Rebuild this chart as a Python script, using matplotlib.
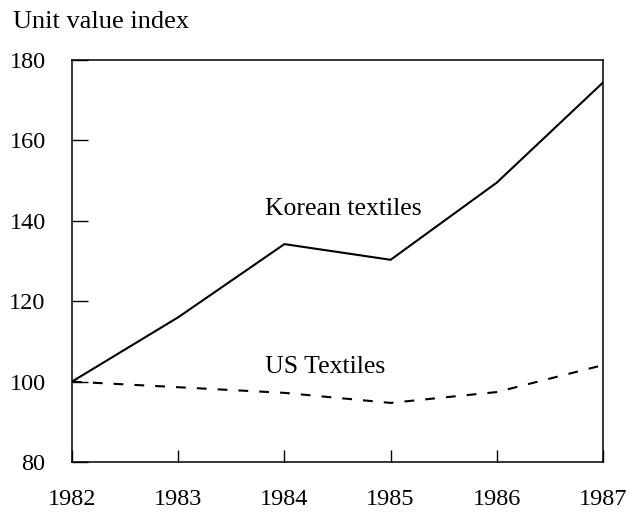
import matplotlib.pyplot as plt

years = [1982, 1983, 1984, 1985, 1986, 1987]
korean = [100, 116, 134.2, 130.3, 149.5, 174.4]
us = [100, 98.6, 97.2, 94.7, 97.4, 104.1]

plt.rcParams['font.family'] = ['Liberation Serif', 'DejaVu Serif']

fig = plt.figure(figsize=(6.33, 5.13), dpi=100)
ax = fig.add_axes([72 / 633, 51 / 513, 531 / 633, 402 / 513])

ax.plot(years, korean, color='black', lw=1.5, solid_joinstyle='miter')
ax.plot(years, us, color='black', lw=1.5, linestyle=(0, (4.7, 5.3)))

ax.set_xlim(1982, 1987)
ax.set_ylim(80, 180)
ax.set_xticks(years)
ax.set_yticks([80, 100, 120, 140, 160, 180])
ax.tick_params(axis='y', direction='in', length=11.5, width=1, pad=19, labelsize=17.5)
ax.tick_params(axis='x', direction='in', length=8.5, width=1, pad=19.5, labelsize=17.5)
for s in ax.spines.values():
    s.set_linewidth(1.1)

ax.text(1983.82, 141.4, 'Korean textiles', fontsize=18.5, ha='left', va='baseline')
ax.text(1983.82, 102.1, 'US Textiles', fontsize=18.5, ha='left', va='baseline')

fig.text(13 / 633, 1 - 28 / 513, 'Unit value index', fontsize=19, ha='left', va='baseline')

fig.savefig('out.png', dpi=100)
